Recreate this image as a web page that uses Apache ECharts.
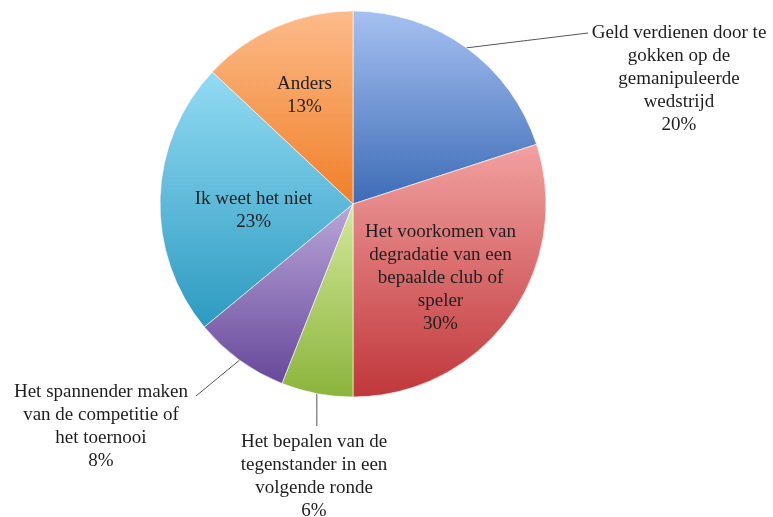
<!DOCTYPE html>
<html>
<head>
<meta charset="utf-8">
<script src="https://cdn.jsdelivr.net/npm/echarts@6/dist/echarts.min.js"></script>
<style>
  html, body { margin: 0; background: #fff; }
  #main { width: 773px; height: 517px; }
</style>
</head>
<body>
<div id="main"></div>
<script>
// categorieën (met regelafbreking zoals in de grafiek)
var categories = [
  'Geld verdienen door te\ngokken op de\ngemanipuleerde\nwedstrijd',
  'Het voorkomen van\ndegradatie van een\nbepaalde club of\nspeler',
  'Het bepalen van de\ntegenstander in een\nvolgende ronde',
  'Het spannender maken\nvan de competitie of\nhet toernooi',
  'Ik weet het niet',
  'Anders'
];
var values = [20, 30, 6, 8, 23, 13];

var topColors = ['#a6c1f1', '#f2a1a1', '#d3e89a', '#b9a6d9', '#93dbf3', '#fcbb8a'];
var bottomColors = ['#3c6bb6', '#c0373a', '#8bb43b', '#67489a', '#2c9ac0', '#f07f28'];

// binnenlabels: kleine verschuiving, buitenlabels: plek + eind van de lijn
var insideShift = { 1: [7, 16], 4: [0, 10], 5: [-9, -17] };
var outsideSpots = {
  0: { x: 679, y: 22, end: [588, 33] },
  2: { x: 314, y: 431, end: [null, 426] },
  3: { x: 101, y: 381, end: [196, 396] }
};

var myChart = echarts.init(document.getElementById('main'));

var data = values.map(function (v, i) {
  var inside = insideShift[i] != null;
  return {
    name: categories[i],
    value: v,
    itemStyle: {
      color: {
        type: 'linear', x: 0, y: 0, x2: 0, y2: 1,
        colorStops: [
          { offset: 0, color: topColors[i] },
          { offset: 1, color: bottomColors[i] }
        ]
      }
    },
    label: { position: inside ? 'inside' : 'outside' },
    labelLine: { show: !inside }
  };
});

myChart.setOption({
  animation: false,
  series: [{
    type: 'pie',
    center: [353, 204],
    radius: 193,
    startAngle: 90,
    clockwise: true,
    avoidLabelOverlap: false,
    itemStyle: { borderColor: 'rgba(255,255,255,0.6)', borderWidth: 1 },
    label: {
      formatter: '{b}\n{c}%',
      fontFamily: 'Liberation Serif',
      fontSize: 19,
      lineHeight: 23,
      color: '#1e1e1e',
      align: 'center'
    },
    labelLine: {
      length: 20,
      length2: 20,
      lineStyle: { color: '#555', width: 1 }
    },
    labelLayout: function (p) {
      var d = insideShift[p.dataIndex];
      if (d) return { dx: d[0], dy: d[1] };
      var s = outsideSpots[p.dataIndex];
      if (!s || !p.labelLinePoints) return {};
      var a = p.labelLinePoints[0];
      var end = [s.end[0] == null ? a[0] : s.end[0], s.end[1]];
      return {
        x: s.x,
        y: s.y,
        align: 'center',
        verticalAlign: 'top',
        labelLinePoints: [a, [(a[0] + end[0]) / 2, (a[1] + end[1]) / 2], end]
      };
    },
    data: data
  }]
});
</script>
</body>
</html>
